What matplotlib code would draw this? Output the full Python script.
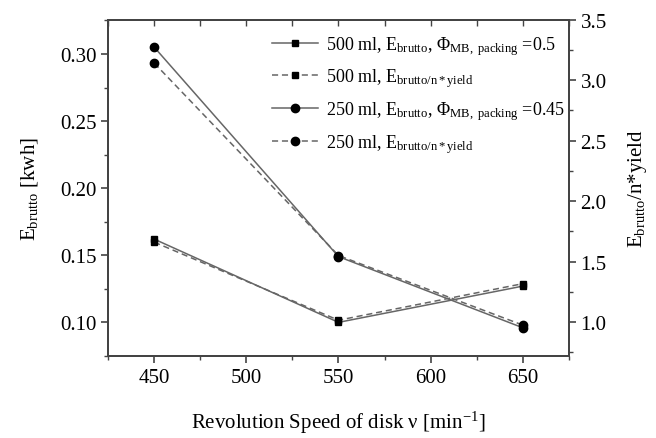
import matplotlib
matplotlib.use("Agg")
import matplotlib.pyplot as plt
from matplotlib.ticker import MultipleLocator

plt.rcParams['font.family'] = ['Liberation Serif', 'DejaVu Serif']
plt.rcParams['mathtext.fontset'] = 'custom'
plt.rcParams['mathtext.rm'] = 'Liberation Serif'
plt.rcParams['mathtext.it'] = 'Liberation Serif:italic'
plt.rcParams['mathtext.bf'] = 'Liberation Serif:bold'

# revolution speed of disk [1/min]
speed = [450, 550, 650]

# left axis: E_brutto [kwh]
e_500 = [0.162, 0.100, 0.127]
e_250 = [0.305, 0.149, 0.096]

# right axis: E_brutto / n*yield
ey_500 = [1.66, 1.015, 1.317]
ey_250 = [3.14, 1.55, 0.975]

labels = [
    r'500 ml, E$_{\mathrm{brutto}}$, $\Phi_{\mathrm{MB,\ packing}}$ =0.5',
    r'500 ml, E$_{\mathrm{brutto/n*yield}}$',
    r'250 ml, E$_{\mathrm{brutto}}$, $\Phi_{\mathrm{MB,\ packing}}$ =0.45',
    r'250 ml, E$_{\mathrm{brutto/n*yield}}$',
]

spine_c = '#444444'
line_c = '#666666'

fig = plt.figure(figsize=(6.56, 4.39), dpi=100)
ax1 = fig.add_axes([0.165, 0.187, 0.702, 0.766])
ax2 = ax1.twinx()

h1, = ax1.plot(speed, e_500, '-', color=line_c, lw=1.1, marker='s', ms=5,
               mfc='black', mec='black', zorder=3)
h3, = ax1.plot(speed, e_250, '-', color=line_c, lw=1.1, marker='o', ms=6,
               mfc='black', mec='black', zorder=3)
h2, = ax2.plot(speed, ey_500, '--', color=line_c, lw=1.1, marker='s', ms=5,
               mfc='black', mec='black', dashes=(4, 2.5))
h4, = ax2.plot(speed, ey_250, '--', color=line_c, lw=1.1, marker='o', ms=6,
               mfc='black', mec='black', dashes=(4, 2.5))

ax1.set_xlim(425, 675)
ax1.set_ylim(0.075, 0.3256)
ax2.set_ylim(0.72, 3.5)

ax1.xaxis.set_major_locator(MultipleLocator(50))
ax1.xaxis.set_minor_locator(MultipleLocator(25))
ax1.yaxis.set_major_locator(MultipleLocator(0.05))
ax1.yaxis.set_minor_locator(MultipleLocator(0.025))
ax2.yaxis.set_major_locator(MultipleLocator(0.5))
ax2.yaxis.set_minor_locator(MultipleLocator(0.25))
ax1.yaxis.set_major_formatter(plt.FormatStrFormatter('%.2f'))
ax2.yaxis.set_major_formatter(plt.FormatStrFormatter('%.1f'))

for ax in (ax1, ax2):
    for s in ax.spines.values():
        s.set_color(spine_c)
        s.set_linewidth(1.4)

ax1.tick_params(axis='both', which='major', direction='out', length=5, width=1.2,
                color=spine_c, labelsize=15, top=False, right=False)
ax1.tick_params(axis='both', which='minor', direction='out', length=3, width=1.0,
                color=spine_c, top=False, right=False)
ax2.tick_params(axis='y', which='major', direction='out', length=5, width=1.2,
                color=spine_c, labelsize=15)
ax2.tick_params(axis='y', which='minor', direction='out', length=3, width=1.0,
                color=spine_c)

top = ax1.secondary_xaxis('top')
top.xaxis.set_major_locator(MultipleLocator(50))
top.xaxis.set_minor_locator(MultipleLocator(25))
top.tick_params(which='both', direction='in', length=4, width=1.0, color=spine_c,
                labeltop=False)
top.spines['top'].set_color(spine_c)
top.spines['top'].set_linewidth(1.4)

ax1.set_xlabel(r'Revolution Speed of disk ν [min$^{\mathrm{-1}}$]', fontsize=15, labelpad=16)
ax1.set_ylabel(r'E$_{\mathrm{brutto}}$ [kwh]', fontsize=15, labelpad=14)
ax2.set_ylabel(r'E$_{\mathrm{brutto}}$/n*yield', fontsize=15, labelpad=14)

leg = ax1.legend([h1, h2, h3, h4], labels, loc='upper left',
                 bbox_to_anchor=(0.335, 0.985), frameon=False, fontsize=13,
                 handlelength=2.6, labelspacing=0.55, handletextpad=0.4,
                 borderpad=0)
leg.set_zorder(5)

fig.savefig('out.png', dpi=100)
